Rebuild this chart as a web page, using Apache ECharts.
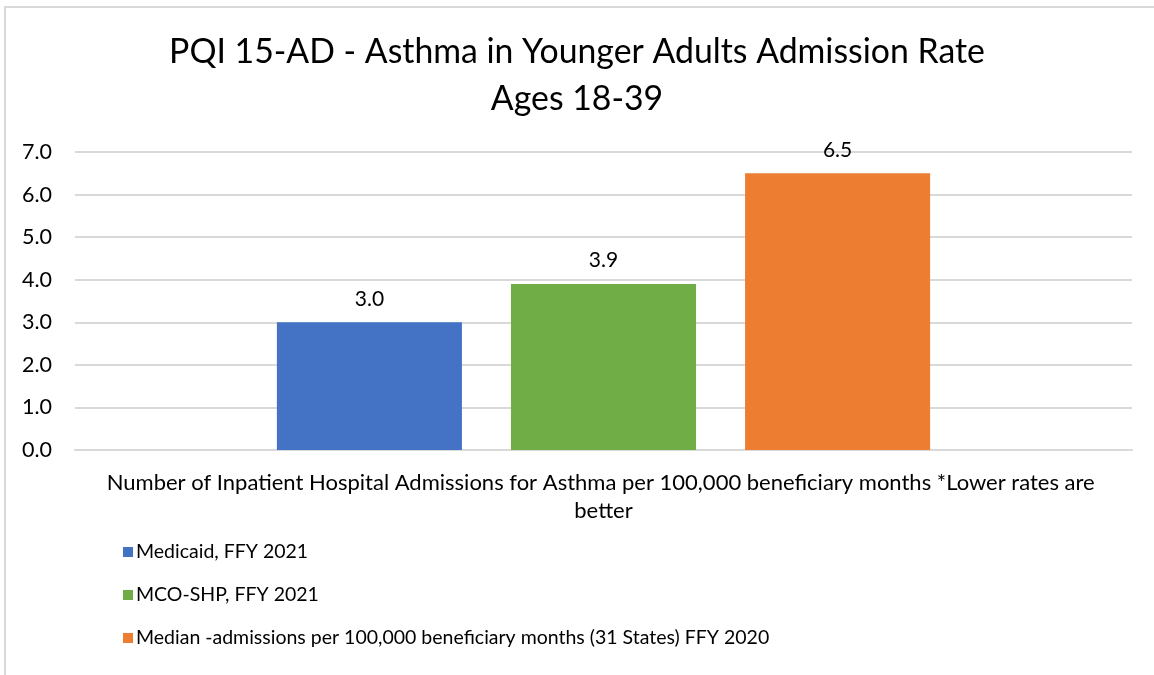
<!DOCTYPE html>
<html>
<head>
<meta charset="utf-8">
<script src="https://cdn.jsdelivr.net/npm/echarts@6/dist/echarts.min.js"></script>
<style>
    html, body {margin: 0; padding: 0; background: #fff;}
    #chart {width: 1154px; height: 675px;}
</style>
</head>
<body>
<div id="chart"></div>
<script>
    const categories = ['Number of Inpatient Hospital Admissions for Asthma per 100,000 beneficiary months *Lower rates are better']
    const seriesNames = [
        'Medicaid, FFY 2021',
        'MCO-SHP, FFY 2021',
        'Median -admissions per 100,000 beneficiary months (31 States) FFY 2020'
    ]
    const medicaid = [3.0]
    const mcoShp = [3.9]
    const median = [6.5]
    const colors = ['#4472C4', '#70AD47', '#ED7D31']

    const font = 'Lato, "Noto Sans", sans-serif'
    const chart = echarts.init(document.getElementById('chart'))

    const valueLabel = {
        show: true,
        position: 'top',
        distance: 13,
        fontFamily: font,
        fontSize: 21,
        color: '#000',
        formatter: p => p.value.toFixed(1)
    }

    chart.setOption({
        animation: false,
        color: colors,
        textStyle: {fontFamily: font},
        title: {
            text: 'PQI 15-AD - Asthma in Younger Adults Admission Rate\nAges 18-39',
            left: 'center',
            top: 24,
            textStyle: {fontFamily: font, fontSize: 33.8, fontWeight: 'normal', color: '#000', lineHeight: 47}
        },
        graphic: [{
            type: 'rect',
            shape: {x: 5, y: 7, width: 1200, height: 700},
            style: {fill: 'none', stroke: '#d9d9d9', lineWidth: 2},
            silent: true
        }],
        legend: {
            orient: 'vertical',
            left: 118,
            top: 537,
            itemGap: 23,
            itemWidth: 10,
            itemHeight: 10,
            icon: 'rect',
            data: seriesNames,
            textStyle: {fontFamily: font, fontSize: 19.5, color: '#000', padding: [0, 0, 0, -2]}
        },
        grid: {left: 75, right: 22, top: 152, bottom: 225, containLabel: false},
        xAxis: {
            type: 'category',
            data: categories,
            axisLine: {lineStyle: {color: '#d9d9d9', width: 2}},
            axisTick: {show: false},
            axisLabel: {
                fontFamily: font,
                fontSize: 22,
                color: '#000',
                margin: 19,
                lineHeight: 28,
                width: 1010,
                overflow: 'break',
                align: 'center'
            }
        },
        yAxis: {
            type: 'value',
            min: 0,
            max: 7,
            interval: 1,
            axisLine: {show: false},
            axisTick: {show: false},
            splitLine: {lineStyle: {color: '#d9d9d9', width: 2}},
            axisLabel: {
                fontFamily: font,
                fontSize: 21.5,
                color: '#000',
                margin: 23,
                formatter: v => v.toFixed(1)
            }
        },
        series: [
            {name: seriesNames[0], type: 'bar', data: medicaid, barGap: '26.5%', barCategoryGap: '38.2%', label: valueLabel},
            {name: seriesNames[1], type: 'bar', data: mcoShp, label: valueLabel},
            {name: seriesNames[2], type: 'bar', data: median, label: valueLabel}
        ]
    })
</script>
</body>
</html>
